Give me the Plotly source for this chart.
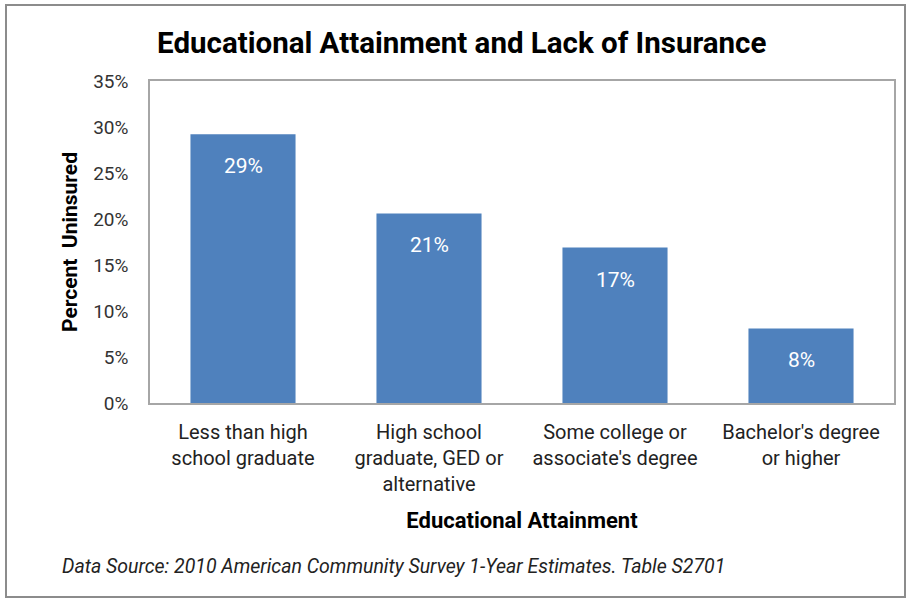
import plotly.graph_objects as go

categories = ["Less than high<br>school graduate",
              "High school<br>graduate, GED or<br>alternative",
              "Some college or<br>associate's degree",
              "Bachelor's degree<br>or higher"]
values = [29.2, 20.6, 16.9, 8.1]
labels = ["29%", "21%", "17%", "8%"]
y_ticks = [0, 5, 10, 15, 20, 25, 30, 35]
y_tick_text = [f"{v}%" for v in y_ticks]

FONT = "Roboto, Arial, sans-serif"
BAR = "#4F81BD"

fig = go.Figure()
fig.add_trace(go.Bar(x=categories, y=values, marker=dict(color=BAR, line=dict(width=0)),
                     hoverinfo="skip"))

for c, v, t in zip(categories, values, labels):
    fig.add_annotation(x=c, y=v, text=t, showarrow=False, yshift=-32,
                       font=dict(family=FONT, size=21, color="white"))

fig.update_layout(
    width=909, height=599,
    margin=dict(l=150, r=15, t=81, b=196),
    paper_bgcolor="white", plot_bgcolor="white",
    bargap=0.435, showlegend=False,
    font=dict(family=FONT, color="#222222"),
    title=dict(text="<b>Educational Attainment and Lack of Insurance</b>",
               x=0.508, xanchor="center", y=0.928, yanchor="middle",
               font=dict(family=FONT, size=29.5, color="black")),
)
fig.update_yaxes(range=[0, 35], tickvals=y_ticks, ticktext=y_tick_text,
                 showgrid=False, zeroline=False, showline=True, mirror=True,
                 linecolor="#A6A6A6", linewidth=1.5, ticks="", ticklen=0,
                 ticklabelstandoff=16,
                 tickfont=dict(family=FONT, size=19, color="#333333"),
                 title=dict(text="<b>Percent  Uninsured</b>", standoff=10,
                            font=dict(family=FONT, size=21, color="black")))
fig.update_xaxes(showgrid=False, showline=True, mirror=True, linecolor="#A6A6A6",
                 linewidth=1.5, ticks="", tickangle=0, ticklabelstandoff=10,
                 tickfont=dict(family=FONT, size=20, color="#222222"),
                 title=dict(text="<b>Educational Attainment</b>", standoff=18,
                            font=dict(family=FONT, size=22, color="black")))

# outer chart frame
fig.add_shape(type="rect", xref="paper", yref="paper",
              x0=-144/744, x1=(905-150)/744, y0=-(597-403)/322, y1=(403-5)/322,
              line=dict(color="#8C8C8C", width=2), fillcolor="rgba(0,0,0,0)", layer="below")

fig.add_annotation(xref="paper", yref="paper", x=-90/744, y=-(566-403)/322,
                   xanchor="left", yanchor="middle", showarrow=False,
                   text="<i>Data Source: 2010 American Community Survey 1-Year Estimates. Table S2701</i>",
                   font=dict(family=FONT, size=19.5, color="#222222"))

fig.write_html("out.html")
